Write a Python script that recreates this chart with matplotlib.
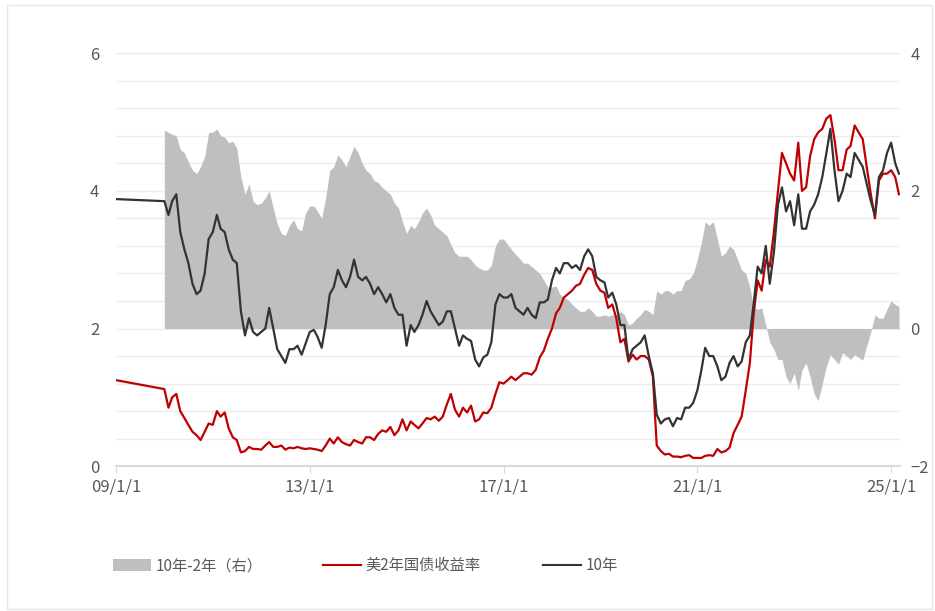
import matplotlib
matplotlib.use('Agg')
import matplotlib.pyplot as plt
import matplotlib.dates as mdates
from matplotlib.ticker import MultipleLocator, FixedLocator, FuncFormatter
from matplotlib.patches import Patch, Rectangle
from matplotlib.lines import Line2D
import pandas as pd

plt.rcParams['font.family'] = ['Noto Sans CJK SC', 'DejaVu Sans']

# first point of both yield lines (chart starts 09/1/1, monthly data from 2010)
start_date = pd.Timestamp('2009-01-01')
ten_start = 3.88
two_start = 1.25

months = pd.date_range('2010-01-01', '2025-03-01', freq='MS')

# 10年 (left axis)
ten_year = [
    3.85, 3.65, 3.85, 3.95, 3.40, 3.15, 2.95, 2.65, 2.50, 2.55, 2.80, 3.30,  # 2010
    3.40, 3.65, 3.45, 3.40, 3.15, 3.00, 2.95, 2.25, 1.90, 2.15, 1.95, 1.90,  # 2011
    1.95, 2.00, 2.30, 2.00, 1.70, 1.60, 1.50, 1.70, 1.70, 1.75, 1.62, 1.78,  # 2012
    1.95, 1.98, 1.88, 1.72, 2.05, 2.50, 2.60, 2.85, 2.70, 2.60, 2.75, 3.00,  # 2013
    2.75, 2.70, 2.75, 2.65, 2.50, 2.60, 2.50, 2.38, 2.50, 2.30, 2.20, 2.20,  # 2014
    1.75, 2.05, 1.95, 2.05, 2.20, 2.40, 2.25, 2.15, 2.05, 2.10, 2.25, 2.25,  # 2015
    2.00, 1.75, 1.90, 1.85, 1.82, 1.55, 1.45, 1.58, 1.62, 1.80, 2.35, 2.50,  # 2016
    2.45, 2.45, 2.50, 2.30, 2.25, 2.20, 2.30, 2.20, 2.15, 2.38, 2.38, 2.42,  # 2017
    2.70, 2.88, 2.80, 2.95, 2.95, 2.88, 2.92, 2.85, 3.05, 3.15, 3.05, 2.75,  # 2018
    2.70, 2.67, 2.45, 2.52, 2.35, 2.05, 2.05, 1.55, 1.70, 1.75, 1.80, 1.90,  # 2019
    1.60, 1.35, 0.75, 0.62, 0.68, 0.70, 0.58, 0.70, 0.68, 0.85, 0.85, 0.92,  # 2020
    1.10, 1.40, 1.72, 1.60, 1.60, 1.45, 1.25, 1.30, 1.50, 1.60, 1.45, 1.52,  # 2021
    1.80, 1.90, 2.35, 2.90, 2.80, 3.20, 2.65, 3.10, 3.80, 4.05, 3.70, 3.85,  # 2022
    3.50, 3.95, 3.45, 3.45, 3.70, 3.80, 3.95, 4.20, 4.55, 4.90, 4.30, 3.85,  # 2023
    4.00, 4.25, 4.20, 4.55, 4.45, 4.35, 4.10, 3.85, 3.65, 4.20, 4.30, 4.55,  # 2024
    4.70, 4.40, 4.25,                                                        # 2025
]

# 美2年国债收益率 (left axis)
two_year = [
    1.12, 0.85, 1.00, 1.05, 0.80, 0.70, 0.60, 0.50, 0.45, 0.38, 0.50, 0.62,  # 2010
    0.60, 0.80, 0.72, 0.78, 0.55, 0.42, 0.38, 0.20, 0.22, 0.28, 0.25, 0.25,  # 2011
    0.24, 0.30, 0.35, 0.28, 0.28, 0.30, 0.24, 0.27, 0.26, 0.28, 0.26, 0.25,  # 2012
    0.26, 0.25, 0.24, 0.22, 0.30, 0.40, 0.33, 0.42, 0.35, 0.32, 0.30, 0.38,  # 2013
    0.35, 0.33, 0.42, 0.42, 0.38, 0.47, 0.52, 0.50, 0.57, 0.45, 0.52, 0.68,  # 2014
    0.52, 0.65, 0.60, 0.55, 0.62, 0.70, 0.68, 0.72, 0.66, 0.72, 0.90, 1.05,  # 2015
    0.82, 0.72, 0.85, 0.78, 0.88, 0.65, 0.68, 0.78, 0.77, 0.85, 1.05, 1.22,  # 2016
    1.20, 1.25, 1.30, 1.25, 1.30, 1.35, 1.35, 1.33, 1.40, 1.58, 1.68, 1.85,  # 2017
    2.00, 2.22, 2.30, 2.45, 2.50, 2.55, 2.62, 2.65, 2.78, 2.88, 2.85, 2.65,  # 2018
    2.55, 2.52, 2.30, 2.35, 2.15, 1.80, 1.85, 1.52, 1.62, 1.55, 1.60, 1.60,  # 2019
    1.55, 1.30, 0.30, 0.22, 0.17, 0.18, 0.14, 0.14, 0.13, 0.15, 0.16, 0.12,  # 2020
    0.12, 0.12, 0.15, 0.16, 0.15, 0.25, 0.20, 0.22, 0.27, 0.48, 0.60, 0.72,  # 2021
    1.10, 1.50, 2.20, 2.70, 2.55, 3.00, 2.90, 3.40, 4.00, 4.55, 4.40, 4.25,  # 2022
    4.15, 4.70, 4.00, 4.05, 4.50, 4.75, 4.85, 4.90, 5.05, 5.10, 4.75, 4.30,  # 2023
    4.30, 4.60, 4.65, 4.95, 4.85, 4.75, 4.35, 3.95, 3.60, 4.15, 4.25, 4.25,  # 2024
    4.30, 4.20, 3.95,                                                        # 2025
]

# 10年-2年 (right axis)
spread = [
    2.88, 2.85, 2.82, 2.80, 2.60, 2.55, 2.42, 2.30, 2.25, 2.35, 2.50, 2.85,  # 2010
    2.85, 2.90, 2.80, 2.78, 2.70, 2.72, 2.62, 2.20, 1.95, 2.10, 1.85, 1.80,  # 2011
    1.82, 1.90, 2.00, 1.75, 1.52, 1.38, 1.35, 1.50, 1.58, 1.45, 1.42, 1.68,  # 2012
    1.78, 1.78, 1.70, 1.60, 1.90, 2.30, 2.35, 2.52, 2.45, 2.35, 2.50, 2.65,  # 2013
    2.55, 2.40, 2.30, 2.25, 2.15, 2.12, 2.05, 2.00, 1.95, 1.82, 1.75, 1.55,  # 2014
    1.38, 1.50, 1.45, 1.55, 1.68, 1.75, 1.65, 1.50, 1.45, 1.40, 1.35, 1.22,  # 2015
    1.10, 1.05, 1.05, 1.05, 1.00, 0.92, 0.88, 0.85, 0.85, 0.92, 1.20, 1.30,  # 2016
    1.30, 1.22, 1.15, 1.08, 1.02, 0.95, 0.95, 0.90, 0.85, 0.80, 0.70, 0.60,  # 2017
    0.60, 0.62, 0.50, 0.45, 0.42, 0.35, 0.30, 0.25, 0.25, 0.30, 0.25, 0.18,  # 2018
    0.18, 0.20, 0.18, 0.20, 0.20, 0.25, 0.20, 0.05, 0.08, 0.15, 0.20, 0.28,  # 2019
    0.25, 0.20, 0.55, 0.50, 0.55, 0.55, 0.50, 0.55, 0.55, 0.70, 0.72, 0.80,  # 2020
    1.00, 1.25, 1.55, 1.50, 1.55, 1.30, 1.05, 1.10, 1.20, 1.15, 1.00, 0.85,  # 2021
    0.80, 0.60, 0.30, 0.28, 0.30, 0.05, -0.20, -0.30, -0.45, -0.45, -0.70, -0.80,  # 2022
    -0.65, -0.90, -0.60, -0.50, -0.70, -0.95, -1.05, -0.80, -0.55, -0.38, -0.45, -0.52,  # 2023
    -0.35, -0.40, -0.45, -0.38, -0.42, -0.46, -0.25, -0.05, 0.20, 0.15, 0.15, 0.28,  # 2024
    0.40, 0.35, 0.32,                                                        # 2025
]

grid_years = [pd.Timestamp(f'{y}-01-01') for y in range(2009, 2026, 2)]
label_years = [pd.Timestamp(f'{y}-01-01') for y in range(2009, 2026, 4)]

txt = '#595959'
fig = plt.figure(figsize=(9.35, 6.11), dpi=100)
fig.patches.append(Rectangle((0.007, 0.004), 0.99, 0.987, transform=fig.transFigure,
                             fill=False, ec='#E6E6E6', lw=1))

ax = fig.add_axes([0.124, 0.237, 0.839, 0.676])
ax2 = ax.twinx()
ax.set_zorder(2)
ax2.set_zorder(1)
ax.patch.set_visible(False)

# spread area + grid live on the right axis, below the lines
ax2.fill_between(months, 0, spread, color='#BFBFBF', lw=0, zorder=2)
ax2.set_ylim(-2, 4)
ax2.yaxis.set_major_locator(MultipleLocator(2))
ax2.yaxis.set_minor_locator(MultipleLocator(0.4))
ax2.xaxis.set_minor_locator(FixedLocator(mdates.date2num(grid_years)))
ax2.set_axisbelow(True)
ax2.grid(which='minor', axis='both', color='#ECECEC', lw=1)
ax2.grid(which='major', axis='both', color='#ECECEC', lw=1)
ax2.tick_params(axis='y', which='both', length=0, labelsize=12, labelcolor=txt, pad=7)

ax.plot([start_date] + list(months), [two_start] + two_year, color='#C00000', lw=1.6)
ax.plot([start_date] + list(months), [ten_start] + ten_year, color='#333333', lw=1.6)
ax.set_ylim(0, 6)
ax.set_yticks([0, 2, 4, 6])
ax.tick_params(axis='y', length=0, labelsize=12, labelcolor=txt, pad=12)

ax.set_xlim(pd.Timestamp('2009-01-01'), pd.Timestamp('2025-03-12'))
ax.xaxis.set_major_locator(FixedLocator(mdates.date2num(label_years)))
ax.xaxis.set_major_formatter(FuncFormatter(
    lambda v, p: '{:%y}/{}/{}'.format(mdates.num2date(v), mdates.num2date(v).month, mdates.num2date(v).day)))
ax.tick_params(axis='x', which='major', length=5, color='#D9D9D9', labelsize=12, labelcolor=txt, pad=4)
ax.tick_params(axis='x', which='minor', length=0)
ax2.tick_params(axis='x', which='both', length=0)

for a in (ax, ax2):
    for s in ('top', 'left', 'right'):
        a.spines[s].set_visible(False)
ax2.spines['bottom'].set_visible(False)
ax.spines['bottom'].set_color('#D9D9D9')
ax.spines['bottom'].set_linewidth(1.5)

# legend, three entries placed across the bottom
entries = [
    (Patch(facecolor='#BFBFBF', edgecolor='none'), '10年-2年（右）', 0.121),
    (Line2D([], [], color='#C00000', lw=1.5), '美2年国债收益率', 0.345),
    (Line2D([], [], color='#333333', lw=1.5), '10年', 0.581),
]
for handle, label, xpos in entries:
    leg = fig.legend([handle], [label], loc='center left', bbox_to_anchor=(xpos, 0.074),
                     frameon=False, fontsize=11, labelcolor=txt, borderpad=0,
                     borderaxespad=0, handlelength=2.5, handleheight=0.85,
                     handletextpad=0.3)

fig.savefig('out.png', dpi=100)
